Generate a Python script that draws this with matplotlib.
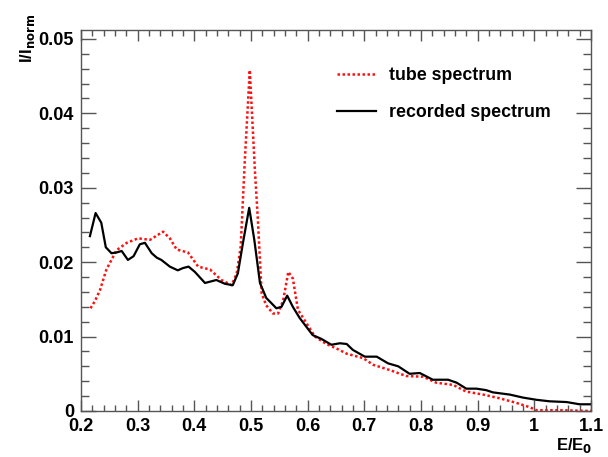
import matplotlib
matplotlib.use("Agg")
import matplotlib.pyplot as plt
from matplotlib.ticker import MultipleLocator, FuncFormatter

# recorded spectrum (black solid)
rec_x = [0.216, 0.226, 0.236, 0.244, 0.254, 0.263, 0.272, 0.283, 0.293, 0.304, 0.313,
         0.325, 0.334, 0.342, 0.357, 0.371, 0.380, 0.390, 0.401, 0.419, 0.439, 0.454, 0.468,
         0.477, 0.486, 0.497, 0.506, 0.516, 0.527, 0.545, 0.554, 0.564, 0.574, 0.586, 0.609,
         0.624, 0.642, 0.657, 0.669, 0.680, 0.701, 0.722, 0.742, 0.760, 0.780, 0.798, 0.821,
         0.848, 0.863, 0.880, 0.898, 0.915, 0.927, 0.957, 0.980, 1.004, 1.027, 1.057, 1.080, 1.100]
rec_y = [0.0235, 0.0266, 0.0253, 0.0220, 0.0212, 0.0213, 0.0215, 0.0203, 0.0208, 0.0224, 0.0226,
         0.0212, 0.0206, 0.0203, 0.0194, 0.0189, 0.0192, 0.0194, 0.0187, 0.0172, 0.0176, 0.0171,
         0.0169, 0.0185, 0.0226, 0.0273, 0.0230, 0.0172, 0.0152, 0.0138, 0.0140, 0.0155, 0.0140,
         0.0125, 0.0102, 0.0097, 0.0089, 0.0091, 0.0090, 0.0082, 0.0073, 0.0073, 0.0064,
         0.0060, 0.0050, 0.0051, 0.0042, 0.0042, 0.0038, 0.0030, 0.0030, 0.0028, 0.0025, 0.0022,
         0.0018, 0.0015, 0.0013, 0.0012, 0.0009, 0.0009]

# tube spectrum (red dotted)
tube_x = [0.217, 0.225, 0.234, 0.245, 0.263, 0.281, 0.301, 0.322, 0.345, 0.357, 0.369, 0.389,
          0.407, 0.428, 0.448, 0.466, 0.475, 0.482, 0.489, 0.498, 0.507, 0.512, 0.519, 0.527,
          0.539, 0.548, 0.557, 0.566, 0.574, 0.583, 0.598, 0.613, 0.633, 0.651, 0.669, 0.698,
          0.716, 0.745, 0.774, 0.804, 0.827, 0.857, 0.880, 0.910, 0.939, 0.968, 0.992, 1.004,
          1.050, 1.100]
tube_y = [0.0138, 0.0148, 0.0163, 0.0190, 0.0216, 0.0226, 0.0232, 0.0230, 0.0241, 0.0232, 0.0217,
          0.0213, 0.0194, 0.0190, 0.0176, 0.0169, 0.0185, 0.0221, 0.0333, 0.0458, 0.0324, 0.0261,
          0.0158, 0.0142, 0.0131, 0.0131, 0.0149, 0.0187, 0.0178, 0.0136, 0.0118, 0.0100, 0.0090,
          0.0084, 0.0077, 0.0071, 0.0062, 0.0055, 0.0047, 0.0046, 0.0038, 0.0035, 0.0026, 0.0022,
          0.0017, 0.0011, 0.0005, 0.0001, 0.0001, 0.0000]

labels = ["tube spectrum", "recorded spectrum"]

plt.rcParams['font.family'] = ['Liberation Sans', 'DejaVu Sans']
plt.rcParams['font.weight'] = 'bold'

fig = plt.figure(figsize=(6.08, 4.57), dpi=100)
ax = fig.add_axes([0.133, 0.1007, 0.839, 0.8337])

ax.plot(tube_x, tube_y, color='#ff1010', linestyle=(0, (1, 1)), lw=1.8, label=labels[0])
ax.plot(rec_x, rec_y, color='black', lw=1.6, label=labels[1])

ax.set_xlim(0.2, 1.1)
ax.set_ylim(0, 0.0512)
ax.xaxis.set_major_locator(MultipleLocator(0.1))
ax.xaxis.set_minor_locator(MultipleLocator(0.02))
ax.yaxis.set_major_locator(MultipleLocator(0.01))
ax.yaxis.set_minor_locator(MultipleLocator(0.002))

def xfmt(v, p):
    s = f"{v:.1f}"
    if abs(v - 1.0) < 1e-9:
        s = "1"
    return s

def yfmt(v, p):
    if abs(v) < 1e-12:
        return "0"
    return f"{v:.2f}"

ax.xaxis.set_major_formatter(FuncFormatter(xfmt))
ax.yaxis.set_major_formatter(FuncFormatter(yfmt))

fc = '#555555'
for sp in ax.spines.values():
    sp.set_color(fc)
    sp.set_linewidth(1.0)
ax.tick_params(axis='both', which='both', direction='in', top=True, right=True, color=fc, width=1.0)
ax.tick_params(axis='x', which='major', length=8, labelsize=13, pad=5)
ax.tick_params(axis='x', which='minor', length=4)
ax.tick_params(axis='y', which='major', length=11, labelsize=13, pad=5)
ax.tick_params(axis='y', which='minor', length=5.5)
for lab in ax.get_xticklabels() + ax.get_yticklabels():
    lab.set_fontweight('bold')

fig.text(0.974, 0.046, r"E/E$_\mathbf{0}$", fontsize=12, fontweight='bold', ha='right', va='top')
fig.text(0.045, 0.915, r"I/I$_\mathbf{norm}$", fontsize=12, fontweight='bold', rotation=90,
         ha='center', va='center')

leg = ax.legend(loc='upper left', bbox_to_anchor=(0.47, 0.945), frameon=False,
                handlelength=2.2, labelspacing=1.15, handletextpad=0.75,
                prop={'weight': 'bold', 'size': 12.8})

fig.savefig("out.png", dpi=100)
